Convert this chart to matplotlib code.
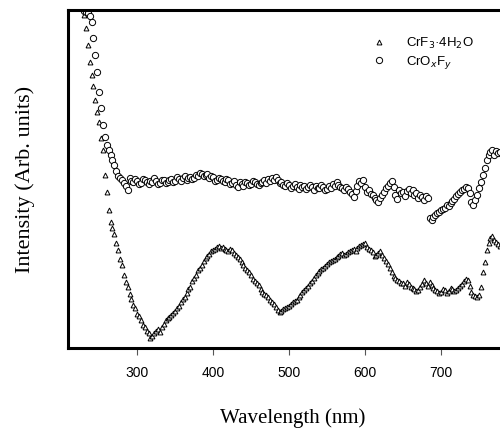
import numpy as np
import matplotlib
matplotlib.use("Agg")
import matplotlib.pyplot as plt

# wavelength grid (nm)
wavelength = np.arange(230, 780, 2.5)

# CrF3·4H2O (triangles), arbitrary intensity (pixel-derived, inverted)
tri_pix = [15, 28, 45, 62, 75, 86, 100, 112, 122, 138,
           150, 175, 192, 210, 222, 228, 234, 243, 250, 259,
           265, 275, 282, 287, 294, 299, 305, 308, 314, 316,
           320, 325, 327, 331, 333, 338, 336, 333, 331, 329,
           332, 327, 324, 320, 318, 317, 315, 313, 311, 308,
           306, 302, 299, 297, 293, 289, 287, 281, 278, 275,
           270, 268, 265, 261, 258, 256, 254, 251, 250, 249,
           247, 246, 248, 247, 249, 250, 251, 249, 250, 253,
           255, 257, 259, 262, 265, 268, 270, 272, 275, 279,
           281, 283, 285, 289, 292, 294, 295, 297, 300, 302,
           304, 307, 310, 312, 311, 309, 308, 307, 306, 304,
           302, 301, 300, 297, 295, 292, 290, 288, 286, 283,
           281, 278, 275, 273, 271, 269, 268, 266, 264, 262,
           261, 260, 259, 257, 256, 254, 253, 255, 254, 252,
           251, 250, 249, 251, 248, 246, 245, 244, 243, 247,
           249, 250, 252, 256, 255, 253, 251, 255, 258, 261,
           264, 268, 272, 276, 278, 280, 281, 283, 283, 286,
           282, 284, 287, 288, 289, 291, 290, 287, 284, 280,
           283, 286, 282, 285, 288, 290, 291, 293, 292, 289,
           290, 293, 291, 288, 289, 291, 290, 288, 286, 284,
           281, 279, 280, 286, 292, 295, 296, 297, 295, 287,
           272, 262, 250, 243, 238, 236, 240, 242, 244, 246]

# CrOxFy (circles)
circ_pix = [11, 12, 13, 16, 22, 38, 55, 72, 92, 108,
            125, 137, 145, 150, 155, 160, 165, 171, 176, 178,
            180, 183, 186, 190, 178, 181, 182, 179, 181, 184,
            183, 179, 180, 182, 184, 181, 182, 178, 181, 184,
            183, 180, 180, 183, 182, 180, 179, 182, 181, 177,
            179, 181, 178, 176, 180, 178, 177, 179, 178, 175,
            176, 173, 174, 176, 175, 174, 178, 176, 177, 181,
            180, 178, 179, 181, 182, 179, 180, 184, 183, 181,
            185, 187, 182, 184, 186, 182, 183, 185, 184, 181,
            182, 184, 185, 183, 182, 180, 183, 179, 181, 178,
            180, 177, 180, 183, 182, 185, 186, 183, 185, 188,
            186, 184, 187, 189, 185, 187, 186, 189, 187, 185,
            187, 190, 186, 188, 188, 185, 187, 190, 189, 186,
            188, 184, 186, 182, 185, 187, 188, 190, 187, 189,
            192, 194, 197, 191, 186, 181, 183, 180, 187, 192,
            190, 194, 195, 198, 200, 202, 198, 195, 192, 188,
            186, 183, 181, 187, 195, 199, 190, 193, 192, 196,
            191, 189, 193, 190, 195, 193, 198, 195, 197, 200,
            196, 198, 218, 220, 217, 215, 213, 212, 210, 209,
            208, 205, 206, 203, 201, 199, 196, 194, 192, 190,
            189, 187, 188, 193, 202, 205, 200, 195, 188, 182,
            175, 168, 160, 155, 152, 150, 155, 151, 153, 152]

tri = 348 - np.array(tri_pix)
circ = 348 - np.array(circ_pix)

fig = plt.figure(figsize=(5.0, 4.32), dpi=100)
ax = fig.add_axes([0.136, 0.1944, 0.898, 0.7824])

ax.plot(wavelength, tri, linestyle='none', marker='^', ms=3.5, mfc='white',
        mec='black', mew=0.7, label='CrF$_3$·4H$_2$O')
ax.plot(wavelength, circ, linestyle='none', marker='o', ms=4.5, mfc='white',
        mec='black', mew=0.7, label='CrO$_x$F$_y$')

ax.set_xlim(209, 800)
ax.set_ylim(0, 338)
ax.set_xticks([300, 400, 500, 600, 700])
ax.set_yticks([])
ax.tick_params(axis='x', direction='out', length=5, width=0.8, colors='#555555',
               labelcolor='black', labelsize=10, pad=8)
for lab in ax.get_xticklabels():
    lab.set_fontfamily('Liberation Sans')
for sp in ax.spines.values():
    sp.set_linewidth(2.2)

ax.set_xlabel('Wavelength (nm)', fontfamily='Liberation Serif', fontsize=15, labelpad=20)
ax.set_ylabel('Intensity (Arb. units)', fontfamily='Liberation Serif', fontsize=16, labelpad=24)

leg = ax.legend(loc='upper left', bbox_to_anchor=(0.652, 0.96), frameon=False,
                prop={'family': 'Liberation Sans', 'size': 9.5}, handletextpad=1.5,
                handlelength=1.0, labelspacing=0.25)

fig.savefig('out.png', dpi=100)
